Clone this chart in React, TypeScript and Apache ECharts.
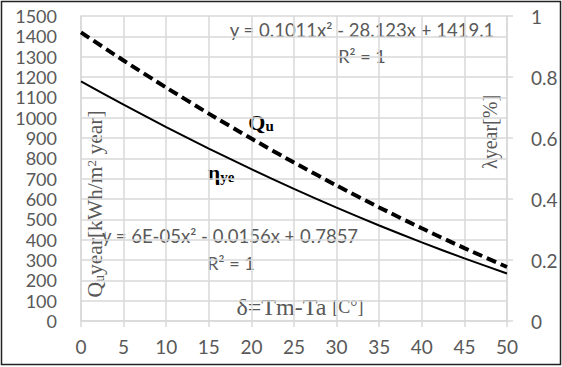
import React, { useEffect, useRef } from "react";
import * as echarts from "echarts";

const xValues = [0, 5, 10, 15, 20, 25, 30, 35, 40, 45, 50];
const quValues = [1419.1, 1281.0, 1148.0, 1020.0, 897.1, 779.2, 666.4, 558.6, 455.9, 358.3, 265.7];
const etaValues = [0.7857, 0.7092, 0.6357, 0.5652, 0.4977, 0.4332, 0.3717, 0.3132, 0.2577, 0.2052, 0.1557];
const leftAxisRange = [0, 1500, 100];
const rightAxisRange = [0, 1, 0.2];
const xAxisRange = [0, 50, 5];

const eqQu = "y = 0.1011x² - 28.123x + 1419.1";
const eqEta = "y = 6E-05x² - 0.0156x + 0.7857";
const r2 = "R² = 1";

export default function App() {
  const ref = useRef<HTMLDivElement>(null);
  useEffect(() => {
    document.body.style.margin = "0";
    if (!ref.current) return;
    const chart = echarts.init(ref.current, undefined, { renderer: "svg" });
    const gray = "#595959";
    const gridColor = "#d9d9d9";
    const sans = "Lato, 'Open Sans', sans-serif";
    const serif = "'Liberation Serif', 'DejaVu Serif', serif";
    chart.setOption({
      animation: false,
      grid: { left: 81, right: 55, top: 16, bottom: 46, containLabel: false },
      xAxis: {
        type: "value",
        min: xAxisRange[0],
        max: xAxisRange[1],
        interval: xAxisRange[2],
        axisLine: { show: true, lineStyle: { color: gridColor, width: 1.5 } },
        axisTick: { show: true, length: 6, lineStyle: { color: gridColor, width: 1.5 } },
        axisLabel: { color: gray, fontSize: 19, fontFamily: sans, margin: 16 },
        splitLine: { show: true, lineStyle: { color: gridColor, width: 1.5 } },
      },
      yAxis: [
        {
          type: "value",
          min: leftAxisRange[0],
          max: leftAxisRange[1],
          interval: leftAxisRange[2],
          axisLine: { show: true, lineStyle: { color: gridColor, width: 1.5 } },
          axisTick: { show: false },
          axisLabel: {
            color: gray,
            fontSize: 18,
            lineHeight: 16,
            fontFamily: sans,
            margin: 24,
            formatter: (v: number) => String(v),
          },
          splitLine: { show: true, lineStyle: { color: gridColor, width: 1.5 } },
        },
        {
          type: "value",
          position: "right",
          min: rightAxisRange[0],
          max: rightAxisRange[1],
          interval: rightAxisRange[2],
          axisLine: { show: true, lineStyle: { color: gridColor, width: 1.5 } },
          axisTick: { show: true, length: 6, lineStyle: { color: gridColor, width: 1.5 } },
          axisLabel: { color: gray, fontSize: 19, fontFamily: sans, margin: 24, formatter: (v: number) => String(v) },
          splitLine: { show: false },
        },
      ],
      series: [
        {
          name: "Qu",
          type: "line",
          yAxisIndex: 0,
          data: xValues.map((x, i) => [x, quValues[i]]),
          showSymbol: false,
          symbol: "none",
          smooth: 0.2,
          lineStyle: { color: "#000", width: 4, type: [10, 5] },
        },
        {
          name: "eta",
          type: "line",
          yAxisIndex: 1,
          data: xValues.map((x, i) => [x, etaValues[i]]),
          showSymbol: false,
          symbol: "none",
          smooth: 0.2,
          lineStyle: { color: "#000", width: 2 },
        },
      ],
      graphic: [
        {
          type: "rect",
          shape: { x: 1.5, y: 1.5, width: 559, height: 363 },
          style: { fill: "none", stroke: "#222", lineWidth: 1.5 },
          silent: true,
        },
        {
          type: "text",
          x: 362,
          y: 30,
          style: { text: eqQu, font: `18.5px ${sans}`, fill: gray, align: "center", verticalAlign: "middle" },
        },
        {
          type: "text",
          x: 362,
          y: 56,
          style: { text: r2, font: `18px ${sans}`, fill: gray, align: "center", verticalAlign: "middle" },
        },
        {
          type: "text",
          x: 230,
          y: 236,
          style: { text: eqEta, font: `18.5px ${sans}`, fill: gray, align: "center", verticalAlign: "middle" },
        },
        {
          type: "text",
          x: 231,
          y: 263,
          style: { text: r2, font: `18px ${sans}`, fill: gray, align: "center", verticalAlign: "middle" },
        },
        {
          type: "text",
          x: 95,
          y: 204,
          rotation: Math.PI / 2,
          style: {
            text: "{a|Q}{s|u}{a|year[kWh/m}{p|2}{a| year]}",
            align: "center",
            verticalAlign: "middle",
            rich: {
              a: { font: `21.5px ${serif}`, fill: gray },
              s: { font: `14px ${serif}`, fill: gray, padding: [8, 0, 0, 0] },
              p: { font: `13px ${serif}`, fill: gray, padding: [0, 0, 8, 0] },
            },
          },
        },
        {
          type: "text",
          x: 490,
          y: 132,
          rotation: Math.PI / 2,
          style: {
            text: "λyear[%]",
            font: `20px ${serif}`,
            fill: gray,
            align: "center",
            verticalAlign: "middle",
          },
        },
        {
          type: "text",
          x: 261,
          y: 122,
          style: {
            text: "{q|Q}{s|u}",
            align: "center",
            verticalAlign: "middle",
            rich: {
              q: { font: `bold 22px ${serif}`, fill: "#000" },
              s: { font: `bold 15px ${serif}`, fill: "#000", padding: [8, 0, 0, 0] },
            },
          },
        },
        {
          type: "text",
          x: 221,
          y: 172,
          style: {
            text: "{q|η}{s|ye}",
            align: "center",
            verticalAlign: "middle",
            rich: {
              q: { font: `bold 22px ${serif}`, fill: "#000" },
              s: { font: `bold 15px ${serif}`, fill: "#000", padding: [10, 0, 0, 0] },
            },
          },
        },
        {
          type: "text",
          x: 300,
          y: 307,
          style: {
            text: "{a|δ=Tm-Ta }{b|[C°]}",
            align: "center",
            verticalAlign: "middle",
            rich: {
              a: { font: `24px ${serif}`, fill: gray },
              b: { font: `18px ${serif}`, fill: gray },
            },
          },
        },
      ],
    });
    return () => chart.dispose();
  }, []);
  return <div ref={ref} style={{ width: 562, height: 367, background: "#fff" }} />;
}
